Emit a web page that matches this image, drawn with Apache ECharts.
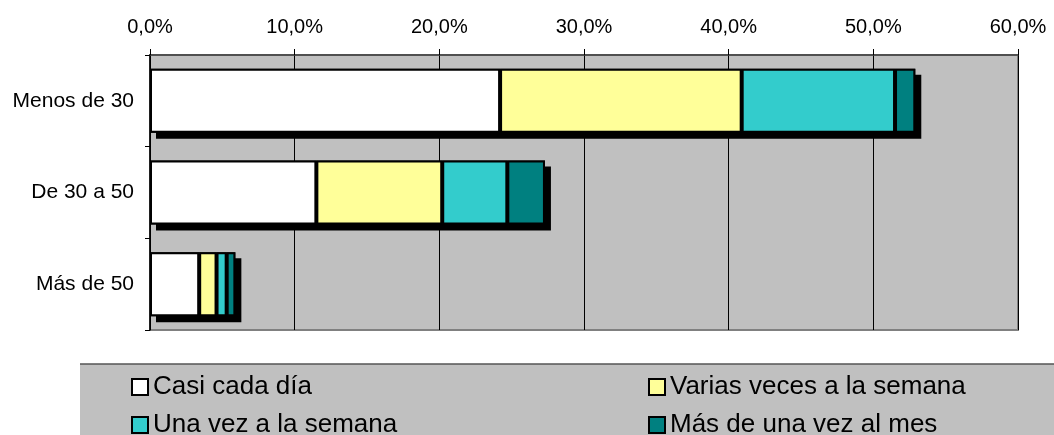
<!DOCTYPE html>
<html>
<head>
<meta charset="utf-8">
<script src="https://cdn.jsdelivr.net/npm/echarts@6/dist/echarts.min.js"></script>
<style>
html, body { margin: 0; padding: 0; background: #fff; }
#chart { width: 1054px; height: 435px; }
</style>
</head>
<body>
<div id="chart"></div>
<script>
// categorias (de arriba abajo)
var categorias = ['Menos de 30', 'De 30 a 50', 'Más de 50'];
var seriesNames = ['Casi cada día', 'Varias veces a la semana', 'Una vez a la semana', 'Más de una vez al mes'];
// valores en %
var casiCadaDia = [24.2, 11.5, 3.4];
var variasVeces = [16.7, 8.7, 1.2];
var unaVez = [10.6, 4.5, 0.7];
var masDeUnaVezMes = [1.4, 2.6, 0.6];
var ticksX = [0, 10, 20, 30, 40, 50, 60];

var colores = ['#FFFFFF', '#FFFF99', '#33CCCC', '#008080'];
var valores = [casiCadaDia, variasVeces, unaVez, masDeUnaVezMes];
var fuente = 'Liberation Sans, Arial, sans-serif';

// total de cada barra, solo para la sombra
var totales = categorias.map(function (c, j) {
    return valores.reduce(function (s, arr) { return s + arr[j]; }, 0);
});

var myChart = echarts.init(document.getElementById('chart'));

var series = [{
    name: 'sombra',
    type: 'bar',
    barWidth: 64,
    barGap: '-100%',
    data: totales,
    itemStyle: {
        color: '#000',
        shadowColor: '#000',
        shadowBlur: 0,
        shadowOffsetX: 6,
        shadowOffsetY: 6
    },
    silent: true
}];
seriesNames.forEach(function (name, i) {
    series.push({
        name: name,
        type: 'bar',
        stack: 'total',
        barWidth: 64,
        barGap: '-100%',
        data: valores[i],
        itemStyle: {
            color: colores[i],
            borderColor: '#000',
            borderWidth: 2
        },
        emphasis: { disabled: true }
    });
});

function leyenda(nombre, x, y) {
    return {
        left: x,
        top: y,
        data: [nombre],
        itemWidth: 16,
        itemHeight: 16,
        icon: 'rect',
        textStyle: { fontSize: 26, color: '#000', fontFamily: fuente, padding: [0, 0, 0, 0] },
        itemStyle: { borderColor: '#000', borderWidth: 2 },
        selectedMode: false
    };
}

myChart.setOption({
    animation: false,
    color: colores,
    graphic: [{
        type: 'rect',
        shape: { x: 80, y: 364, width: 1000, height: 80 },
        style: { fill: '#C0C0C0' },
        z: -10
    }, {
        type: 'line',
        shape: { x1: 80, y1: 364, x2: 1054, y2: 364 },
        style: { stroke: '#555', lineWidth: 1.5 },
        z: -9
    }],
    grid: {
        left: 150, right: 36, top: 55, bottom: 105,
        show: true,
        backgroundColor: '#C0C0C0',
        borderColor: '#808080',
        borderWidth: 2
    },
    legend: [
        leyenda(seriesNames[0], 126, 369),
        leyenda(seriesNames[2], 126, 407),
        leyenda(seriesNames[1], 643, 369),
        leyenda(seriesNames[3], 643, 407)
    ],
    xAxis: {
        type: 'value',
        position: 'top',
        min: ticksX[0],
        max: ticksX[ticksX.length - 1],
        interval: 10,
        axisLine: { show: true, lineStyle: { color: '#404040', width: 1.5 } },
        axisTick: { show: true, length: 6, lineStyle: { color: '#000' } },
        splitLine: { show: true, lineStyle: { color: '#000', width: 1 } },
        axisLabel: {
            fontSize: 20,
            color: '#000',
            fontFamily: fuente,
            margin: 18,
            formatter: function (v) { return v.toFixed(1).replace('.', ',') + '%'; }
        }
    },
    yAxis: {
        type: 'category',
        inverse: true,
        data: categorias,
        axisLine: { show: true, lineStyle: { color: '#000', width: 1.5 } },
        axisTick: { show: true, length: 5, lineStyle: { color: '#000' } },
        axisLabel: { fontSize: 21, color: '#000', fontFamily: fuente, margin: 16 }
    },
    series: series
});
</script>
</body>
</html>
